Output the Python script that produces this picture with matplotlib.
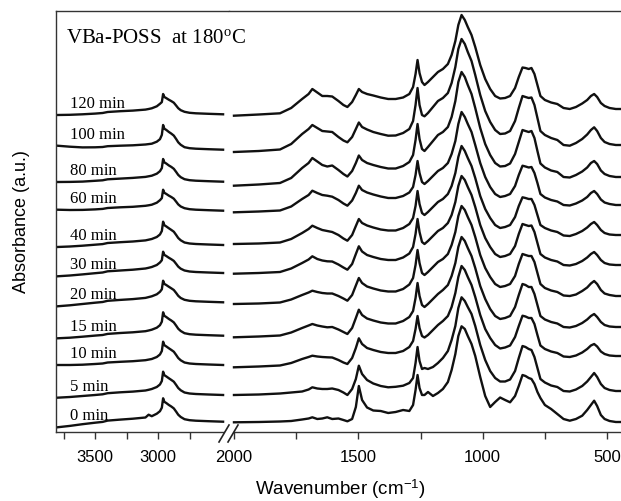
import matplotlib
matplotlib.use('Agg')
import matplotlib.pyplot as plt
from matplotlib.lines import Line2D
from matplotlib.patches import Polygon

# wavenumber grids (cm-1) for the two halves of the broken axis
LEFT_WN = [3800, 3700, 3600, 3500, 3440, 3400, 3300, 3200, 3100, 3075,
           3050, 3010, 2985, 2970, 2960, 2950, 2935, 2915, 2895, 2875,
           2855, 2840, 2820, 2790, 2750, 2700, 2600, 2484]
RIGHT_WN = [2000, 1900, 1815, 1770, 1726, 1700, 1685, 1665, 1645, 1625, 1605, 1580, 1560, 1544,
            1525, 1510, 1498, 1485, 1465, 1440, 1410, 1380, 1350, 1320, 1295,
            1280, 1270, 1262, 1254, 1244, 1234, 1220, 1200, 1180, 1160, 1140,
            1125, 1110, 1098, 1085, 1072, 1060, 1045, 1030, 1010, 990, 970, 950, 930,
            910, 890, 870, 855, 840, 828, 815, 804, 792, 780, 768, 750,
            725, 700, 675, 650, 625, 600, 580, 565, 552, 540, 525, 510, 490, 465, 440]

LABELS = ['120 min', '100 min', '80 min', '60 min', '40 min', '30 min',
          '20 min', '15 min', '10 min', '5 min', '0 min']
# vertical stacking offset of each spectrum (a.u.)
OFFSETS = [323, 287, 255, 227, 197, 167, 136, 105, 76, 41, 10]

left_120 = [-6, -5.8, -5.3, -4.6, -4, -3, -2.2, -1.6, -0.6, 0, 0.7, 2.7, 5.2, 6.9, 15, 12,
            10.9, 9.3, 7.9, 6.3, 3.2, 0.8, -1.2, -2.8, -3.8, -4.3, -4.8, -5.3]
left_100 = [-0.7, -1.7, -2.4, -2.3, -2, -1.2, -0.7, -0.3, 0.5, 0.9, 1.3, 3.3, 5.8, 10.1, 20, 16.3,
            15.1, 13.1, 11.4, 9.4, 5.7, 2.7, 0.2, -2.2, -3.2, -3.7, -4.2, -4.7]
left_80 = [-5, -4.9, -4.6, -3.8, -3.3, -2.3, -1.6, -0.9, 0.1, 0.7, 1.3, 3.3, 5.8, 8.9, 18, 14.6,
           13.5, 11.6, 10.1, 8.2, 4.8, 2.1, -0.2, -2.2, -3.2, -3.7, -4.2, -4.7]
left_60 = [-4.7, -5, -4.9, -4.4, -3.9, -3, -2.3, -1.8, -0.8, -0.3, 0.3, 2.3, 4.8, 6.9, 15.3, 12.2,
           11.1, 9.4, 8, 6.3, 3.1, 0.6, -1.5, -3.2, -4.2, -4.7, -5.2, -5.7]
left_40 = [-12, -11.5, -10.7, -9.7, -9.1, -8, -7.2, -6.5, -5.4, -4.7, -4, -2, 0.5, 4, 13.3, 9.8,
           8.6, 6.8, 5.1, 3.3, -0.2, -3, -5.3, -7.5, -8.5, -9, -9.5, -10]
left_30 = [-11.3, -10.5, -9.4, -8.2, -7.5, -6.3, -5.5, -4.7, -3.5, -2.8, -2, 0, 2.5, 4.8, 13.3, 10.1,
           9, 7.3, 5.8, 4.1, 0.9, -1.6, -3.7, -5.5, -6.5, -7, -7.5, -8]
left_20 = [-10.3, -9.3, -8, -6.7, -6, -4.8, -3.9, -3.1, -1.9, -1.1, -0.3, 1.7, 4.2, 6.7, 15.3, 12.1,
           11, 9.3, 7.7, 6, 2.8, 0.2, -2, -3.8, -4.8, -5.3, -5.8, -6.3]
left_15 = [-11.3, -10.7, -9.7, -8.6, -8, -6.9, -6, -5.3, -4.2, -3.5, -2.7, -0.7, 1.8, 5.3, 14.7, 11.2,
           10, 8.1, 6.5, 4.6, 1.1, -1.7, -4, -6.2, -7.2, -7.7, -8.2, -8.7]
left_10 = [-9, -9, -8.7, -8, -7.5, -6.5, -5.8, -5.2, -4.2, -3.6, -3, -1, 1.5, 5, 14.3, 10.8,
           9.6, 7.8, 6.1, 4.3, 0.8, -2, -4.3, -6.5, -7.5, -8, -8.5, -9]
left_5 = [-6.7, -6, -5, -4, -3.3, -2.2, -1.3, -0.6, 0.5, 1.2, 2, 4, 6.5, 10, 19.3, 15.8,
          14.6, 12.8, 11.1, 9.3, 5.8, 3, 0.7, -1.5, -2.5, -3, -3.5, -4]
left_0 = [-5.3, -3.9, -2.2, -0.7, 0.1, 1.4, 2.4, 3.3, 4.5, 7.3, 5.8, 8.3, 10.8, 14.3, 23.7, 20.2,
          19, 17.1, 15.5, 13.6, 10.1, 7.3, 5, 2.8, 1.8, 1.3, 0.8, 0.3]

right_120 = [-6.7, -5.5, -4.3, 1, 10, 15, 20, 16.5, 13, 13, 12.5, 8, 4, 2,
             7, 14, 20, 17, 15, 13.5, 11.5, 10, 10, 11.5, 15,
             22, 35, 49, 36, 27, 24, 27, 32, 37, 40, 45,
             54, 68, 84, 94, 89, 82, 74, 62, 44, 30, 20, 13, 10.5,
             11, 13, 21, 32, 41.5, 41, 40, 41, 35, 24, 13, 9,
             6.5, 5, 1, 0, 2, 5.5, 9, 13, 15, 12, 6, 3, 1, 0, 0]
right_100 = [-7, -6, -4.5, 1, 11, 16, 20, 17, 14, 13.5, 13, 8, 4.5, 2.7,
             8, 16, 22.5, 18, 15.5, 13, 11, 9.3, 9.5, 12, 16,
             24, 40, 57, 40, 30, 28.7, 32, 38, 44, 47, 52,
             62, 78, 96, 106, 101, 93, 84, 70, 50, 34, 23, 15, 11,
             11.5, 14, 24, 37, 49, 48, 47, 47.5, 40, 27, 14, 10,
             7, 5, 0, -0.7, 2, 6, 10.5, 15, 17.7, 14, 7, 3, 1, 0, 0]
right_80 = [-8.7, -7.5, -6, -1, 9, 14, 19, 15.5, 12, 10.5, 11.5, 7, 3, 0.5,
            6, 14, 21.5, 17, 14, 12, 10, 8.5, 8.5, 11, 15,
            22, 37, 53, 38, 28, 26, 30, 36, 42, 45, 50,
            60, 76, 95, 105, 100, 92, 83, 69, 49, 33, 22, 14, 10.5,
            11, 13.5, 23, 35, 47, 46, 45, 46, 39, 26, 13.5, 9.5,
            6.5, 5, 0, -0.5, 2, 5.5, 9.5, 14, 16, 13, 6.5, 3, 1, 0, 0]
right_60 = [-7.3, -6.5, -5.5, -1.5, 6, 10, 14.3, 12, 10, 9.3, 8.3, 5, 1.5, -0.7,
            4.5, 12, 19.3, 15, 12.5, 10.5, 8.5, 7, 7, 9, 12.5,
            18, 30, 44, 32, 23, 21, 24, 29, 34, 37, 42,
            51, 64, 81, 93, 88, 81, 73, 60, 42, 28, 18, 11, 8,
            9, 11, 19, 30, 39.3, 38.5, 37.5, 38, 32, 22, 11, 7.5,
            5, 3.5, 0, -0.5, 1.5, 4.5, 8, 12, 14, 11, 5.5, 2.5, 1, 0, 0]
right_40 = [-9, -8.5, -7.5, -4, 2, 6, 9.3, 7, 5, 4, 3, 0, -3.5, -5.7,
            0, 9, 16, 12, 9.5, 7.5, 5.5, 4.5, 4.5, 7, 11,
            17, 29, 44, 31, 22, 20, 23, 28, 33, 36, 41,
            49, 62, 78, 89, 84, 77, 69, 57, 39, 26, 17, 10, 7,
            8, 10, 18, 29, 37.7, 37, 36, 36, 30, 20, 10, 7,
            4.5, 3, -0.5, -1, 1, 4, 7.5, 11, 13, 10, 5, 2, 0.5, 0, 0]
right_30 = [-8.7, -8, -7, -3.5, 2, 5.5, 8.7, 6, 4.5, 3.7, 3.5, 0.5, -2.5, -4.7,
            1, 11, 18.7, 13.5, 10, 8, 6, 5, 5, 7.5, 11.5,
            18, 31, 46, 33, 23, 21, 24, 29, 34, 37, 42,
            50, 63, 79, 89, 85, 78, 70, 58, 40, 27, 18, 11, 8,
            9, 11, 19, 31, 41, 40, 39, 39.5, 33, 22, 11, 7.5,
            5, 3.5, 0, -0.5, 1, 4, 7.5, 11, 13, 10, 5, 2, 0.5, 0, 0]
right_20 = [-8, -7.5, -6.5, -3.5, 1, 3.5, 5.3, 4, 3, 2.5, 2.5, 0, -2.5, -4.7,
            1, 10.5, 18, 13, 9.5, 7.5, 5.5, 4.5, 4.5, 7, 11.5,
            18, 31, 46, 33, 23, 21, 24, 29, 34, 37, 42,
            51, 64, 80, 90, 86, 79, 71, 59, 41, 28, 19, 12, 9,
            10, 12, 20, 32, 42, 41, 40, 40, 34, 23, 12, 8,
            5.5, 4, 0.5, 0, 1.5, 5, 8.5, 12.5, 15, 12, 6, 2.5, 1, 0, 0]
right_15 = [-10.3, -9.5, -8.5, -5.5, -1, 1.5, 3, 1.5, 0.5, -0.3, 0, -2.5, -5, -7,
            -1, 9, 17.3, 12, 8.5, 6.5, 4.5, 3.5, 3.5, 6, 10,
            16, 29, 44, 31, 22, 20, 23, 28, 33, 37, 42,
            51, 64, 80, 90, 86, 79, 71, 59, 41, 28, 18, 11, 8,
            9, 11, 20, 32, 43, 42, 40, 40, 33, 22, 11, 7.5,
            5, 3.5, 0, -0.5, 1, 4, 7.5, 11, 13, 10, 5, 2, 0.5, 0, 0]
right_10 = [-11.3, -10.5, -9.5, -7, -3, -1, 0.3, -0.5, -1, -1.3, -1.5, -4, -6.5, -8,
            -2, 8, 17.7, 12, 8, 6, 4, 3, 3, 5, 9,
            15, 27, 40, 28, 20, 18.5, 21, 26, 31, 35, 40,
            49, 63, 79, 90, 86, 79, 71, 59, 41, 27, 18, 11, 7.5,
            8.5, 10.5, 19, 30, 40.3, 39.5, 38, 38, 32, 21, 10.5, 7,
            4.5, 3, -0.5, -1, 0.5, 3.5, 7, 10.5, 12, 9.5, 4.5, 2, 0.5, 0, 0]
right_5 = [-4, -3.5, -2.5, -1.5, -0.5, 1.5, 3.7, 2.5, 2, 2, 2.5, 1, -1.5, -4,
           2, 12, 25.3, 17, 11, 7.5, 5, 3.7, 4.2, 5.3, 8,
           13, 28, 44, 30, 22, 23, 22, 24, 28, 33, 40,
           51, 65, 83, 93.7, 90, 84, 77, 65, 46, 31, 20, 13, 9.5,
           9.5, 11.5, 20, 33, 45, 44, 42, 41, 34, 23, 12, 8.5,
           5.5, 4, 0, -0.5, 1.5, 5, 9.5, 14, 18, 14, 7, 3, 1, 0, 0]
right_0 = [-0.3, 0, 0.5, 1, 2.5, 3.5, 4.7, 3, 3.5, 4.7, 3, 3.5, 2, 0.7,
           3, 15, 36, 22, 14.5, 11.5, 11, 9, 10, 12, 11,
           17, 32, 47, 34, 27, 27, 30, 26, 29, 33, 40,
           52, 68, 86, 95.7, 93, 86, 78, 66, 45, 26, 15, 20, 24.5,
           22, 19.7, 26, 36, 47, 46, 44, 43, 38, 30, 24, 17,
           13, 8, 3, 1.3, 3, 6.3, 12, 17, 21.3, 16, 7, 3, 1, 0, 0]

LEFT = [left_120, left_100, left_80, left_60, left_40, left_30,
        left_20, left_15, left_10, left_5, left_0]
RIGHT = [right_120, right_100, right_80, right_60, right_40, right_30,
         right_20, right_15, right_10, right_5, right_0]

W, H = 621, 502
SANS = 'Liberation Sans'
SERIF = 'Liberation Serif'
plt.rcParams['mathtext.fontset'] = 'custom'
plt.rcParams['mathtext.rm'] = SERIF
plt.rcParams['mathtext.it'] = SERIF + ':italic'


def fx(px):
    return px / W


def fy(py):
    return 1 - py / H


fig = plt.figure(figsize=(W / 100, H / 100), dpi=100)
ax_l = fig.add_axes([fx(56), fy(433), (229 - 56) / W, 421 / H])
ax_r = fig.add_axes([fx(229), fy(433), (623 - 229) / W, 421 / H])

for left, right, off in zip(LEFT, RIGHT, OFFSETS):
    ax_l.plot(LEFT_WN, [v + off for v in left], color='#111111', lw=1.7,
              solid_joinstyle='round')
    ax_r.plot(RIGHT_WN, [v + off for v in right], color='#111111', lw=1.7,
              solid_joinstyle='round')

for ax in (ax_l, ax_r):
    ax.set_ylim(0, 421)
    ax.set_yticks([])
    for s in ax.spines.values():
        s.set_color('#333333')
        s.set_linewidth(1.0)
    ax.tick_params(axis='x', which='both', direction='out', length=5, width=1,
                   color='#333333', pad=7, labelsize=12)

ax_l.set_xlim(3810, 2437)
ax_l.set_xticks([3500, 3000])
ax_l.set_xticks([3750, 3250, 2750], minor=True)
ax_l.spines['right'].set_visible(False)

ax_r.set_xlim(2020, 436)
ax_r.set_xticks([2000, 1500, 1000, 500])
ax_r.set_xticks([1750, 1250, 750], minor=True)
ax_r.spines['left'].set_visible(False)
ax_r.spines['right'].set_visible(False)

for ax in (ax_l, ax_r):
    for lab in ax.get_xticklabels():
        lab.set_family(SANS)

# curve labels
for name, left, off in zip(LABELS, LEFT, OFFSETS):
    ax_l.text(3700, off + left[0] + 12, name, family=SERIF, fontsize=12,
              va='center', ha='left')

fig.text(fx(66), fy(38.5), 'VBa-POSS  at 180$^\\mathrm{o}$C', family=SERIF,
         fontsize=15, va='center', ha='left')

# axis break marks
fig.add_artist(Polygon([(fx(219), fy(443)), (fx(229), fy(426)), (fx(238), fy(426)),
                        (fx(228), fy(443))], closed=True, facecolor='white',
                       edgecolor='none', transform=fig.transFigure, zorder=5))
for x0 in (219, 228):
    fig.add_artist(Line2D([fx(x0), fx(x0 + 10)], [fy(443), fy(426)], color='#222222',
                          lw=1.2, transform=fig.transFigure, zorder=6))

fig.text(fx(22), fy(222), 'Absorbance (a.u.)', family=SANS, fontsize=13,
         rotation=90, va='center', ha='center')
fig.text(fx(340), fy(489), 'Wavenumber (cm$^{\\mathregular{-1}}$)', family=SANS,
         fontsize=13.5, va='center', ha='center')

fig.savefig('out.png', dpi=100)
